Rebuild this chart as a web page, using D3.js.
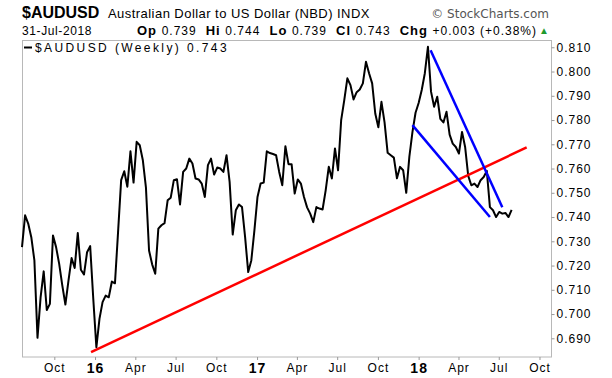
<!DOCTYPE html>
<html>
<head>
<meta charset="utf-8">
<script src="https://cdn.jsdelivr.net/npm/d3@7"></script>
<style>
  body { margin: 0; background: #fff; }
  svg text { font-family: "Liberation Sans", Arial, sans-serif; }
</style>
</head>
<body>
<script>

  const width = 612,
        height = 378

  const margin = {left: 22, top: 40, right: 61, bottom: 21.5}
  const plotW = width - margin.left - margin.right,
        plotH = height - margin.top - margin.bottom

  // weekly closes, one per week starting Monday 20-Jul-2015
  const firstWeek = new Date(2015, 6, 20)
  const closes = [
    0.7276, 0.7407, 0.7373, 0.7317, 0.7221, 0.6902, 0.7069, 0.7176, 0.7017, 0.7042,
    0.7324, 0.7276, 0.7207, 0.7118, 0.7039, 0.7138, 0.7231, 0.7190, 0.7334, 0.7183,
    0.7163, 0.7255, 0.7280, 0.7063, 0.6863, 0.6980, 0.7049, 0.7076, 0.7069, 0.7134,
    0.7127, 0.7338, 0.7552, 0.7589, 0.7525, 0.7671, 0.7542, 0.7710, 0.7696, 0.7634,
    0.7521, 0.7262, 0.7205, 0.7166, 0.7352, 0.7366, 0.7375, 0.7469, 0.7480, 0.7552,
    0.7556, 0.7452, 0.7586, 0.7600, 0.7641, 0.7621, 0.7559, 0.7555, 0.7538, 0.7483,
    0.7614, 0.7641, 0.7575, 0.7604, 0.7600, 0.7586, 0.7655, 0.7545, 0.7328, 0.7428,
    0.7452, 0.7441, 0.7317, 0.7173, 0.7221, 0.7345, 0.7483, 0.7538, 0.7542, 0.7671,
    0.7664, 0.7660, 0.7655, 0.7586, 0.7531, 0.7692, 0.7618, 0.7618, 0.7497, 0.7555,
    0.7538, 0.7483, 0.7440, 0.7414, 0.7379, 0.7441, 0.7435, 0.7431, 0.7510, 0.7607,
    0.7559, 0.7683, 0.7593, 0.7800, 0.7882, 0.7972, 0.7944, 0.7885, 0.7915, 0.7926,
    0.7951, 0.8040, 0.7993, 0.7951, 0.7827, 0.7770, 0.7875, 0.7790, 0.7665, 0.7655,
    0.7645, 0.7560, 0.7607, 0.7593, 0.7500, 0.7648, 0.7750, 0.7830, 0.7870, 0.7924,
    0.7993, 0.8102, 0.7917, 0.7855, 0.7896, 0.7805, 0.7790, 0.7834, 0.7740, 0.7703,
    0.7689, 0.7662, 0.7751, 0.7689, 0.7570, 0.7531, 0.7538, 0.7524, 0.7552, 0.7565,
    0.7590, 0.7441, 0.7428, 0.7400, 0.7421, 0.7414, 0.7417, 0.7400, 0.7430
  ]

  const yTicks = [0.69, 0.70, 0.71, 0.72, 0.73, 0.74, 0.75, 0.76, 0.77, 0.78, 0.79, 0.80, 0.81]
  const xTicks = [
    new Date(2015, 9, 1), new Date(2016, 0, 1), new Date(2016, 3, 1), new Date(2016, 6, 1),
    new Date(2016, 9, 1), new Date(2017, 0, 1), new Date(2017, 3, 1), new Date(2017, 6, 1),
    new Date(2017, 9, 1), new Date(2018, 0, 1), new Date(2018, 3, 1), new Date(2018, 6, 1),
    new Date(2018, 9, 1)
  ]
  const xTickLabels = ['Oct', '16', 'Apr', 'Jul', 'Oct', '17', 'Apr', 'Jul', 'Oct', '18', 'Apr', 'Jul', 'Oct']

  const quote = [['Op', '0.739'], ['Hi', '0.744'], ['Lo', '0.739'], ['Cl', '0.743'], ['Chg', '+0.003 (+0.38%)']]

  // hand drawn trend lines [date, value]
  const redTrend = [[new Date(2015, 11, 23), 0.6843], [new Date(2018, 8, 2), 0.7687]]
  const blueUpper = [[new Date(2018, 0, 28), 0.8088], [new Date(2018, 6, 9), 0.7440]]
  const blueLower = [[new Date(2017, 11, 18), 0.7779], [new Date(2018, 5, 11), 0.7400]]

  const data = closes.map((d, i) => ({date: d3.timeMonday.offset(firstWeek, i), value: d}))

  const xScale = d3.scaleTime()
    .domain([new Date(2015, 6, 20), new Date(2018, 9, 27)])
    .range([0, plotW])

  const yScale = d3.scaleLinear()
    .domain([0.6825, 0.8130])
    .range([plotH, 0])

  const svg = d3.select("body")
    .append("svg")
      .attr("width", width)
      .attr("height", height)

  // header
  const header = svg.append("g")
  header.append("text")
    .attr("x", 22).attr("y", 18)
    .style("font-size", "16px").style("font-weight", "bold")
    .text("$AUDUSD")
  header.append("text")
    .attr("x", 108).attr("y", 18)
    .style("font-size", "13px")
    .style("letter-spacing", "0.45px")
    .text("Australian Dollar to US Dollar (NBD) INDX")
  header.append("text")
    .attr("x", 549).attr("y", 18)
    .style("text-anchor", "end")
    .style("font-family", "'DejaVu Sans'")
    .style("font-size", "12px")
    .style("fill", "#555")
    .text("\u00A9 StockCharts.com")
  header.append("text")
    .attr("x", 22).attr("y", 35)
    .style("font-size", "12px")
    .style("letter-spacing", "0.6px")
    .text("31-Jul-2018")

  const quoteText = header.append("text")
    .attr("x", 137).attr("y", 35)
    .style("letter-spacing", "1px")
  quote.forEach((q, i) => {
    quoteText.append("tspan")
      .attr("class", i ? "gap" : null)
      .style("font-size", "13px").style("font-weight", "bold")
      .text(q[0] + " ")
    quoteText.append("tspan")
      .style("font-size", "12px")
      .text(q[1])
  })
  // spread the groups so the line ends just before the arrow
  const natural = quoteText.node().getComputedTextLength()
  quoteText.selectAll(".gap").attr("dx", (537 - 137 - natural) / 4)

  header.append("text")
    .attr("x", 539).attr("y", 34)
    .style("font-size", "10px")
    .style("fill", "#1e9a2e")
    .text("\u25B2")

  const chart = svg.append("g")
    .attr("transform", `translate(${margin.left}, ${margin.top})`)

  chart.append("rect")
    .attr("x", 0.5).attr("y", 0.5)
    .attr("width", plotW).attr("height", plotH)
    .attr("fill", "none")
    .attr("stroke", "#b8b8b8")

  // axes
  const yAxis = d3.axisRight(yScale)
    .tickValues(yTicks)
    .tickSize(3)
    .tickPadding(2)
    .tickFormat(d3.format(".3f"))
  const gy = chart.append("g")
    .attr("transform", `translate(${plotW + 0.5}, 0)`)
    .call(yAxis)
  gy.select(".domain").remove()
  gy.selectAll(".tick line").attr("stroke", "#999")
  gy.selectAll(".tick text")
    .style("font-family", "'Liberation Sans', Arial, sans-serif")
    .style("font-size", "12px")
    .style("letter-spacing", "1px")
    .attr("fill", "#000")

  const xAxis = d3.axisBottom(xScale)
    .tickValues(xTicks)
    .tickSize(3)
    .tickPadding(3)
    .tickFormat((d, i) => xTickLabels[i])
  const gx = chart.append("g")
    .attr("transform", `translate(0, ${plotH + 0.5})`)
    .call(xAxis)
  gx.select(".domain").remove()
  gx.selectAll(".tick line").attr("stroke", "#999")
  gx.selectAll(".tick text")
    .style("font-family", "'Liberation Sans', Arial, sans-serif")
    .style("font-size", (d, i) => xTickLabels[i].length === 2 ? "14px" : "12px")
    .style("font-weight", (d, i) => xTickLabels[i].length === 2 ? "bold" : "normal")
    .style("letter-spacing", "1px")
    .attr("fill", "#000")

  // price line
  const line = d3.line()
    .x(d => xScale(d.date))
    .y(d => yScale(d.value))

  chart.append("path")
    .datum(data)
    .attr("d", line)
    .attr("fill", "none")
    .attr("stroke", "#000")
    .attr("stroke-width", 2)
    .attr("stroke-linejoin", "round")

  const trend = d3.line()
    .x(d => xScale(d[0]))
    .y(d => yScale(d[1]))

  chart.append("path")
    .attr("d", trend(redTrend))
    .attr("stroke", "#ff0000")
    .attr("stroke-width", 2.5)
    .attr("fill", "none")

  ;[blueUpper, blueLower].forEach(t => {
    chart.append("path")
      .attr("d", trend(t))
      .attr("stroke", "#0000ff")
      .attr("stroke-width", 2.5)
      .attr("fill", "none")
  })

  // legend
  chart.append("line")
    .attr("x1", 2).attr("x2", 10)
    .attr("y1", 7.5).attr("y2", 7.5)
    .attr("stroke", "#000")
    .attr("stroke-width", 2)
  chart.append("text")
    .attr("x", 13).attr("y", 11.5)
    .style("font-size", "12px")
    .style("letter-spacing", "2.4px")
    .text(`$AUDUSD (Weekly) ${closes[closes.length - 1].toFixed(3)}`)

</script>
</body>
</html>
